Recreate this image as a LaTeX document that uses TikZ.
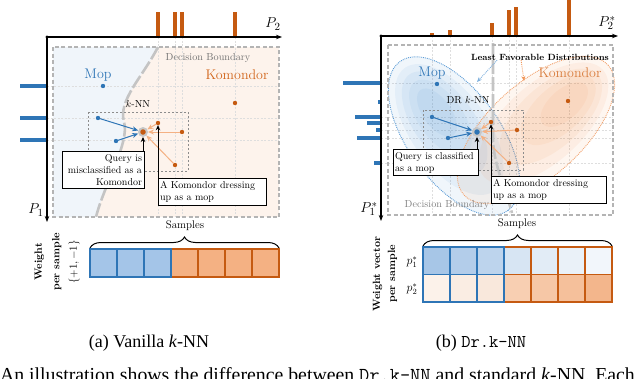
\documentclass[tikz,border=0pt]{standalone}
\usepackage{fontspec}
\newfontfamily\capfont{Liberation Serif}
\usetikzlibrary{arrows.meta,decorations.pathreplacing,calc}
\definecolor{mblue}{HTML}{2E75B6}
\definecolor{morange}{HTML}{C55A11}
\definecolor{tblue}{HTML}{2E75B6}
\definecolor{torange}{HTML}{D2661C}
\definecolor{lblue}{HTML}{F0F5FA}
\definecolor{lpeach}{HTML}{FDF3EC}
\definecolor{sqblue}{HTML}{A4C5E8}
\definecolor{sqorange}{HTML}{F4B183}
\definecolor{arrorange}{HTML}{F4B183}
\definecolor{bdgray}{HTML}{C4C4C4}
\definecolor{boxgray}{HTML}{B4B4B4}
\definecolor{eblue}{HTML}{5B9BD5}
\definecolor{eorange}{HTML}{ED7D31}
\definecolor{c0a}{HTML}{A7C6E7}\definecolor{c1a}{HTML}{B3CDEA}\definecolor{c2a}{HTML}{BDD4ED}
\definecolor{c3a}{HTML}{D7E5F3}\definecolor{c4a}{HTML}{E2ECF6}\definecolor{c5a}{HTML}{EAF1F8}
\definecolor{c6a}{HTML}{F2F6FB}
\definecolor{c0b}{HTML}{FCF2EA}\definecolor{c1b}{HTML}{FAEDE3}\definecolor{c2b}{HTML}{F9E8DC}
\definecolor{c3b}{HTML}{F8CFB2}\definecolor{c4b}{HTML}{F6C7A6}\definecolor{c5b}{HTML}{F5C09B}
\definecolor{c6b}{HTML}{F3B68C}
\newcommand{\fsz}[2]{\fontsize{#1}{#2}\selectfont}
\begin{document}
\begin{tikzpicture}[x=1pt,y=-1pt,
  every node/.style={inner sep=0pt, outer sep=0pt},
  dotnode/.style={circle, fill=#1, inner sep=0pt, minimum size=4.4pt},
  halo/.style={circle, fill=black!22, inner sep=0pt, minimum size=10pt},
  axisline/.style={line width=1.1pt, -{Stealth[length=6pt,width=4.5pt]}},
  obar/.style={line width=4.2pt, morange},
  bbar/.style={line width=4.2pt, mblue},
  gridln/.style={black!13, line width=0.5pt, dash pattern=on 2pt off 1.5pt},
  outerbox/.style={boxgray, line width=1.3pt, dash pattern=on 4pt off 2.5pt},
  knnbox/.style={black!45, line width=0.7pt, dash pattern=on 2pt off 2pt},
  bdline/.style={bdgray, line width=2.6pt, dash pattern=on 14pt off 3pt},
  barrow/.style={mblue, line width=1pt, -{Stealth[length=6pt,width=5pt]}},
  oarrow/.style={arrorange, line width=1pt, -{Stealth[length=6pt,width=5pt]}},
  calloutbox/.style={draw=black, line width=1pt, fill=white, inner xsep=2pt, inner ysep=3pt, font=\fsz{10}{12}},
  callarrow/.style={black, line width=1pt, -{Stealth[length=5pt,width=4.5pt]}},
  lbl/.style={font=\fsz{10.2}{12}},
  bigtxt/.style={font=\fsz{14}{16}},
  axlbl/.style={font=\fsz{15}{18}},
  smp/.style={font=\fsz{11}{13}},
  bracedec/.style={decorate, decoration={brace, amplitude=11pt}, line width=1pt},
  sqb/.style={fill=sqblue, draw=mblue, line width=1.6pt},
  sqo/.style={fill=sqorange, draw=morange, line width=1.6pt},
  captxt/.style={font=\capfont\fsz{18}{21}}
]
\useasboundingbox (0,0) rectangle (640,378);

%================ LEFT PANEL =================
\fill[lpeach] (53,47) rectangle (279,217);
\fill[lblue] (53,47) -- (158,47) .. controls (142,78) and (118,100) .. (124,122)
  .. controls (130,142) and (104,185) .. (96,217) -- (53,217) -- cycle;
\foreach \gx in {158,175,182,235} \draw[gridln] (\gx,37) -- (\gx,217);
\foreach \gy in {86,118,140} \draw[gridln] (47,\gy) -- (279,\gy);
\draw[bdline] (158,47) .. controls (142,78) and (118,100) .. (124,122)
  .. controls (130,142) and (104,185) .. (96,217);
\draw[outerbox] (53,47) rectangle (279,217);
\foreach \bx in {158,175,182,235} \draw[obar] (\bx,12) -- (\bx,37);
\foreach \by in {86,118,140} \draw[bbar] (20,\by) -- (47,\by);
\coordinate (lorig) at (47,37);
\coordinate (lxend) at (282,37);
\coordinate (lyend) at (47,222);
\draw[axisline] (lorig) -- (lxend);
\draw[axisline] (lorig) -- (lyend);
\fill (lorig) circle (1.6pt);
\node[axlbl] (lp2) at (273,24) {$P_2$};
\node[axlbl] (lp1) at (36,210) {$P_1$};
\node[bigtxt, text=tblue] (lmop) at (98,75) {Mop};
\node[bigtxt, text=torange] (lkom) at (237,75) {Komondor};
\node[lbl, text=black!55] (ldb) at (208,58) {Decision Boundary};
\node[lbl] (lknn) at (138,104) {$k$-NN};
\draw[knnbox] (88,112) rectangle (188,171);
\node[dotnode=mblue] (lm) at (103,86) {};
\node[dotnode=morange] (lk) at (235,103) {};
\node[dotnode=mblue] (lb1) at (98,118) {};
\node[dotnode=mblue] (lb2) at (116,141) {};
\node[halo] (lq) at (143,132) {};
\node[dotnode=morange, minimum size=5.5pt] (lqd) at (lq) {};
\node[dotnode=morange] (lo1) at (158,123) {};
\node[dotnode=morange] (lo2) at (182,132) {};
\node[dotnode=morange] (lo3) at (175,165) {};
\draw[barrow] (lb1) -- (lq);
\draw[barrow] (lb2) -- (lq);
\draw[oarrow] (lo1) -- (lq);
\draw[oarrow] (lo2) -- (lq);
\draw[oarrow] (lo3) -- (lq);
\node[calloutbox, anchor=north west, text width=78pt, align=right] (lc1) at (62,151)
  {Query is\\misclassified as a\\Komondor};
\node[calloutbox, anchor=north west, text width=104pt, align=left] (lc2) at (158,178)
  {A Komondor dressing\\up as a mop};
\draw[callarrow] (lq.south |- lc1.north) -- (lq.south);
\draw[callarrow] (lo1.south |- lc2.north) -- (lo1.south);

\node[smp] (lsmp) at (185,226) {Samples};
\coordinate (lbr1) at (90,248);
\coordinate (lbr2) at (279,248);
\draw[bracedec] (lbr1) -- (lbr2);
\foreach \i in {0,1,2} \draw[sqb] (90+27*\i,249) rectangle ++(27,28);
\foreach \i in {3,4,5,6} \draw[sqo] (90+27*\i,249) rectangle ++(27,28);
\draw[mblue, line width=1.6pt] (90,249) rectangle (171,277);
\node[rotate=90, align=center, font=\fsz{10.5}{17.5}] (lw) at (57,262)
  {\textbf{Weight}\\\textbf{per sample}\\$\{+1,-1\}$};
\node[captxt] (capa) at (149,343) {(a) Vanilla \textit{k}-NN};

%================ RIGHT PANEL =================
\foreach \gx in {432,450,492,509,516,569} \draw[gridln] (\gx,36) -- (\gx,215);
\foreach \gy in {83,117,123,130,138,163} \draw[gridln] (381,\gy) -- (613,\gy);
\begin{scope}[shift={(454,136)}, rotate=-54]
  \fill[eblue, opacity=0.09] (0,0) ellipse [x radius=92, y radius=46];
  \fill[eblue, opacity=0.09] (-8,0) ellipse [x radius=76, y radius=38];
  \fill[eblue, opacity=0.09] (-16,0) ellipse [x radius=60, y radius=30];
  \fill[eblue, opacity=0.09] (-23,0) ellipse [x radius=44, y radius=22];
  \fill[eblue, opacity=0.09] (-29,0) ellipse [x radius=28, y radius=14];
  \draw[eblue, densely dotted, line width=0.9pt] (0,0) ellipse [x radius=92, y radius=46];
\end{scope}
\begin{scope}[shift={(536,130)}, rotate=42]
  \fill[eorange, opacity=0.07] (0,0) ellipse [x radius=97, y radius=47];
  \fill[eorange, opacity=0.07] (10,0) ellipse [x radius=80, y radius=39];
  \fill[eorange, opacity=0.07] (20,0) ellipse [x radius=63, y radius=31];
  \fill[eorange, opacity=0.07] (30,0) ellipse [x radius=46, y radius=23];
  \fill[eorange, opacity=0.07] (38,0) ellipse [x radius=29, y radius=15];
  \draw[eorange!70, densely dotted, line width=0.9pt] (0,0) ellipse [x radius=97, y radius=47];
\end{scope}
\draw[bdline] (493,43) -- (493,140) .. controls (494,165) and (505,188) .. (512,213);
\draw[outerbox] (388,45) rectangle (613,215);
\draw[obar] (432,33) -- (432,36);
\draw[obar] (436,35) -- (436,36);
\draw[obar] (450,30) -- (450,36);
\draw[obar] (492,23) -- (492,36);
\draw[obar] (509,10) -- (509,36);
\draw[obar] (516,7) -- (516,36);
\draw[obar] (569,0) -- (569,36);
\draw[bbar] (343,83) -- (381,83);
\draw[bbar] (378,102) -- (381,102);
\draw[bbar] (355,117) -- (381,117);
\draw[bbar] (367,123) -- (381,123);
\draw[bbar] (376,130) -- (381,130);
\draw[bbar] (357,138) -- (381,138);
\draw[bbar] (374,163) -- (381,163);
\coordinate (rorig) at (381,36);
\coordinate (rxend) at (618,36);
\coordinate (ryend) at (381,221);
\draw[axisline] (rorig) -- (rxend);
\draw[axisline] (rorig) -- (ryend);
\fill (rorig) circle (1.6pt);
\node[axlbl] (rp2) at (607,23) {$P_2^*$};
\node[axlbl] (rp1) at (369,209) {$P_1^*$};
\node[bigtxt, text=tblue] (rmop) at (432,73) {Mop};
\node[bigtxt, text=torange!85] (rkom) at (570,73) {Komondor};
\node[font=\fsz{9}{11}\bfseries] (lfd) at (540,57) {Least Favorable Distributions};
\coordinate (lfdb) at (477,82);
\coordinate (lfdo) at (524,81);
\draw[eblue!80, densely dotted, line width=0.9pt, -{Stealth[length=5pt,width=4pt]}] ([xshift=26pt]lfd.south west) -- (lfdb);
\draw[eorange!80, densely dotted, line width=0.9pt, -{Stealth[length=5pt,width=4pt]}] ([xshift=50pt]lfd.south west) -- (lfdo);
\node[lbl] (rknn) at (468,100) {DR $k$-NN};
\node[lbl, text=black!50] (rdb) at (447,205) {Decision Boundary};
\draw[knnbox] (423,110) rectangle (523,170);
\node[dotnode=mblue] (rm) at (437,84) {};
\node[dotnode=morange] (rk) at (568,101) {};
\node[dotnode=mblue] (rb1) at (432,117) {};
\node[dotnode=mblue] (rb2) at (448,138) {};
\node[halo] (rq) at (477,132) {};
\node[dotnode=mblue, minimum size=5.5pt] (rqd) at (rq) {};
\node[dotnode=morange] (ro1) at (491,122) {};
\node[dotnode=morange] (ro2) at (517,130) {};
\node[dotnode=morange] (ro3) at (509,163) {};
\draw[barrow] (rb1) -- (rq);
\draw[barrow] (rb2) -- (rq);
\draw[oarrow] (ro1) -- (rq);
\draw[oarrow] (ro2) -- (rq);
\draw[oarrow] (ro3) -- (rq);
\node[calloutbox, anchor=north west, text width=81pt, align=left] (rc1) at (393,149)
  {Query is classified\\as a mop};
\node[calloutbox, anchor=north west, text width=111pt, align=left] (rc2) at (491,176)
  {A Komondor dressing\\up as a mop};
\draw[callarrow] (rq.south |- rc1.north) -- (rq.south);
\draw[callarrow] (ro1.south |- rc2.north) -- (ro1.south);

\node[smp] (rsmp) at (517,224) {Samples};
\coordinate (rbr1) at (423,246);
\coordinate (rbr2) at (612,246);
\draw[bracedec] (rbr1) -- (rbr2);
\foreach \i in {0,...,6} {
  \fill[c\i a] (423+27*\i,247) rectangle ++(27,27.5);
  \fill[c\i b] (423+27*\i,274.5) rectangle ++(27,27.5);
}
\foreach \i in {3,4,5,6} {
  \draw[morange, line width=1.6pt] (423+27*\i,247) rectangle ++(27,27.5);
  \draw[morange, line width=1.6pt] (423+27*\i,274.5) rectangle ++(27,27.5);
}
\foreach \i in {0,1,2} {
  \draw[mblue, line width=1.6pt] (423+27*\i,247) rectangle ++(27,27.5);
  \draw[mblue, line width=1.6pt] (423+27*\i,274.5) rectangle ++(27,27.5);
}
\node[font=\fsz{12}{14}] (rp1s) at (412,262) {$p_1^*$};
\node[font=\fsz{12}{14}] (rp2s) at (412,289) {$p_2^*$};
\node[rotate=90, align=center, font=\fsz{10.5}{15}] (rw) at (385,274)
  {\textbf{Weight vector}\\\textbf{per sample}};
\node[captxt] (capb) at (481,343) {(b) {\ttfamily Dr.k-NN}};

\node[anchor=base west, font=\capfont\fsz{19.8}{22}] (capline) at (0,381)
  {An illustration shows the difference between {\ttfamily Dr.k-NN} and standard \textit{k}-NN. Each};
\end{tikzpicture}
\end{document}
